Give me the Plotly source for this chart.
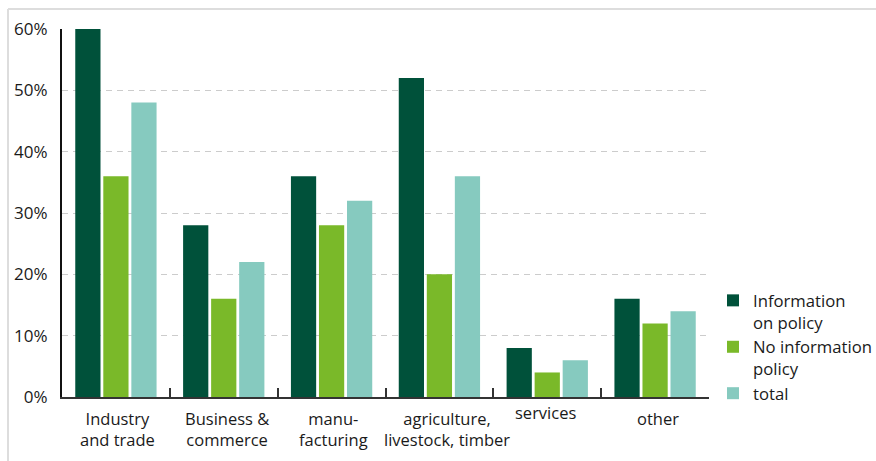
import plotly.graph_objects as go

# Share of companies per sector, split by whether an information policy exists
sectors = ["Industry and trade", "Business & commerce", "manufacturing",
           "agriculture, livestock, timber", "services", "other"]
sector_labels = ["Industry<br>and trade", "Business &<br>commerce", "manu-<br>facturing",
                 "agriculture,<br>livestock, timber", "services", "other"]
with_policy = [60, 28, 36, 52, 8, 16]
without_policy = [36, 16, 28, 20, 4, 12]
total = [48, 22, 32, 36, 6, 14]

series_names = ["Information<br>on policy", "No information<br>policy", "total"]
series_values = [with_policy, without_policy, total]
series_colors = ["#00513A", "#7AB929", "#86CABF"]

FONT = "Open Sans"
TEXT = "#1a1a1a"

fig = go.Figure()
for name, vals, col in zip(series_names, series_values, series_colors):
    fig.add_trace(go.Bar(x=sectors, y=vals, name=name, marker_color=col,
                         marker_line_width=0))

W, H = 876, 461
L, R, T, B = 62, 167, 29, 64
pw, ph = W - L - R, H - T - B

# category labels below the axis (per-label vertical/horizontal nudges)
label_yshift = [-8, -8, -8, -8, -2, -8]
label_xshift = [2, 3, 2, 8, -2, 3]
annotations = []
for s, lab, ys, xs in zip(sectors, sector_labels, label_yshift, label_xshift):
    annotations.append(dict(x=s, xref="x", y=0, yref="paper", text=lab,
                            showarrow=False, yanchor="top", xanchor="center",
                            yshift=ys, xshift=xs, align="center",
                            font=dict(family=FONT, size=16.5, color=TEXT)))

# light frame along the top and left edges
fx = (8 - L) / pw
fy_top = 1 + (T - 9) / ph
fy_bot = -(B) / ph
fx_right = (W - L) / pw
shapes = [
    dict(type="line", xref="paper", yref="paper", x0=fx, x1=fx_right,
         y0=fy_top, y1=fy_top, line=dict(color="#dddddd", width=2)),
    dict(type="line", xref="paper", yref="paper", x0=fx, x1=fx,
         y0=fy_top, y1=fy_bot, line=dict(color="#dddddd", width=2)),
]

fig.update_layout(
    width=W, height=H,
    margin=dict(l=L, r=R, t=T, b=B, pad=0, autoexpand=False),
    paper_bgcolor="white", plot_bgcolor="white",
    barmode="group", bargap=0.22, bargroupgap=0.1,
    font=dict(family=FONT, size=15, color=TEXT),
    showlegend=True,
    legend=dict(xref="container", x=713 / W, xanchor="left",
                yref="container", y=1 - 283 / H, yanchor="top",
                font=dict(family=FONT, size=16.7, color=TEXT),
                valign="top", tracegroupgap=0, itemclick=False,
                bgcolor="rgba(0,0,0,0)"),
    annotations=annotations,
    shapes=shapes,
)
fig.update_xaxes(type="category", categoryorder="array", categoryarray=sectors,
                 showticklabels=False, tickson="boundaries", ticks="inside",
                 ticklen=9, tickwidth=2, tickcolor="#333333",
                 showline=True, linecolor="#333333", linewidth=2,
                 showgrid=False, zeroline=False, fixedrange=True)
fig.update_yaxes(range=[0, 60], dtick=10, ticksuffix="%", ticks="",
                 ticklabelstandoff=9,
                 tickfont=dict(family=FONT, size=17, color=TEXT),
                 showgrid=True, gridcolor="#cccccc", gridwidth=1,
                 griddash="6px,5px",
                 showline=True, linecolor="#111111", linewidth=2,
                 zeroline=False, fixedrange=True)

fig.write_html("out.html")
